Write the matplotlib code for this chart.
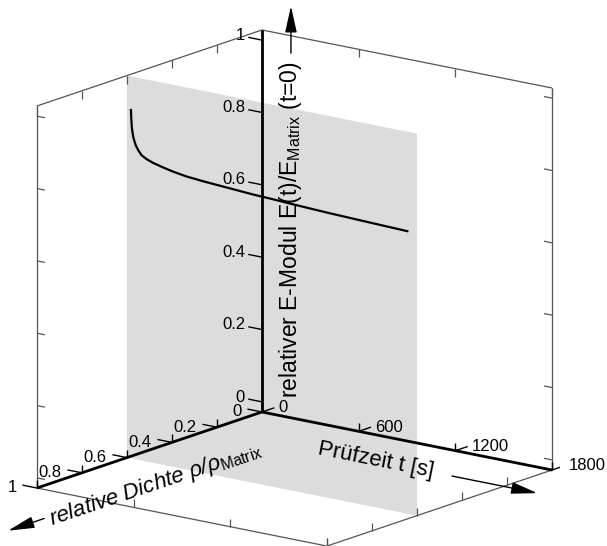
import matplotlib

matplotlib.use("Agg")
import matplotlib.pyplot as plt
import numpy as np
from mpl_toolkits.mplot3d import proj3d
from mpl_toolkits.mplot3d.art3d import Poly3DCollection

RHO_PLANE = 0.6
TIME_S = [25, 27, 31, 39, 54, 70, 91, 122, 163, 225, 287, 371, 474, 578,
          682, 784, 900, 1030, 1240, 1445, 1740]
E_REL = [0.935, 0.912, 0.885, 0.862, 0.841, 0.828, 0.816, 0.808, 0.801, 0.794,
         0.788, 0.782, 0.778, 0.775, 0.772, 0.769, 0.767, 0.764, 0.760, 0.757, 0.753]

RHO_TICKS = [0, 0.2, 0.4, 0.6, 0.8, 1]
RHO_LABELS = ["0", "0.2", "0.4", "0.6", "0.8", "1"]
TIME_TICKS = [0, 600, 1200, 1800]
TIME_LABELS = ["0", "600", "1200", "1800"]
E_TICKS = [0, 0.2, 0.4, 0.6, 0.8, 1]
E_LABELS = ["0", "0.2", "0.4", "0.6", "0.8", "1"]

RHO_LIM = (0, 1)
TIME_LIM = (0, 1800)
E_LIM = (-0.028, 1.028)

plt.rcParams["font.family"] = ["Liberation Sans", "DejaVu Sans"]
plt.rcParams["mathtext.fontset"] = "custom"
plt.rcParams["mathtext.rm"] = "Liberation Sans"
plt.rcParams["mathtext.it"] = "Liberation Sans:italic"

fig = plt.figure(figsize=(6.07, 5.46), dpi=100)
ax = fig.add_axes([0.0232, -0.041, 0.8995, 1.0], projection="3d", computed_zorder=False)
ax.set_proj_type("ortho")
ax.view_init(elev=15.07, azim=37.58)
ax.set_xlim(*RHO_LIM)
ax.set_ylim(*TIME_LIM)
ax.set_zlim(*E_LIM)
ax.set_box_aspect((1.2504, 1.2402, 1.3405), zoom=1.1614)
ax.set_axis_off()

r0, r1 = RHO_LIM
t0, t1 = TIME_LIM
z0, z1 = E_LIM
M = ax.get_proj()

BOX = dict(color="#555555", lw=0.9, zorder=2)
TICK = dict(color="black", lw=1.0, zorder=4)
AXIS = dict(color="black", lw=2.0, zorder=4)


def seg(p, q, **kw):
    ax.plot([p[0], q[0]], [p[1], q[1]], [p[2], q[2]], solid_capstyle="butt", **kw)


def to2d(p):
    xs, ys, _ = proj3d.proj_transform(np.array([p[0]]), np.array([p[1]]), np.array([p[2]]), M)
    return xs[0], ys[0]


def label(p, s, **kw):
    x, y = to2d(p)
    ax.text2D(x, y, s, transform=ax.transData, zorder=5, **kw)


def arrow3d(p, q):
    xa, ya = to2d(p)
    xb, yb = to2d(q)
    ax.annotate("", xy=(xb, yb), xytext=(xa, ya), annotation_clip=False,
                arrowprops=dict(arrowstyle="-|>,head_length=0.9,head_width=0.2",
                                color="black", lw=1.0, mutation_scale=18,
                                shrinkA=0, shrinkB=0))


# gray plane at the measured density
plane = Poly3DCollection(
    [[(RHO_PLANE, t0, z0), (RHO_PLANE, t1, z0), (RHO_PLANE, t1, z1), (RHO_PLANE, t0, z1)]],
    facecolors="#dcdcdc", edgecolors="none", zorder=1,
)
ax.add_collection3d(plane)

# thin bounding box
seg((r1, t0, z0), (r1, t0, z1), **BOX)
seg((r0, t1, z0), (r0, t1, z1), **BOX)
seg((r0, t0, z1), (r1, t0, z1), **BOX)
seg((r0, t0, z1), (r0, t1, z1), **BOX)
seg((r1, t0, z0), (r1, t1, z0), **BOX)
seg((r0, t1, z0), (r1, t1, z0), **BOX)
for r in RHO_TICKS:
    seg((r, t0, z1), (r, t0, z1 - 0.022), **BOX)
    seg((r, t1, z0), (r, t1, z0 + 0.022), **BOX)
for t in TIME_TICKS:
    seg((r0, t, z1), (r0, t, z1 - 0.022), **BOX)
    seg((r1, t, z0), (r1, t, z0 + 0.022), **BOX)
for e in E_TICKS:
    seg((r1, t0, e), (r1, t0 + 50, e), **BOX)
    seg((r0, t1, e), (r0, t1 - 50, e), **BOX)

# curve
ax.plot([RHO_PLANE] * len(TIME_S), TIME_S, E_REL, color="black", lw=1.6, zorder=3)

# main axes
seg((r0, t0, z0), (r1, t0, z0), **AXIS)
seg((r0, t0, z0), (r0, t1, z0), **AXIS)
seg((r0, t0, z0), (r0, t0, z1), **AXIS)

for r, lab in zip(RHO_TICKS, RHO_LABELS):
    seg((r, t0, z0), (r, t0 - 90, z0), **TICK)
    seg((r, t0, z0), (r, t0, z0 + 0.022), **TICK)
    label((r, t0 - 125, z0 - 0.011), lab, ha="right", va="center", fontsize=12)
for t, lab in zip(TIME_TICKS, TIME_LABELS):
    seg((r0, t, z0), (r0 - 0.055, t, z0), **TICK)
    seg((r0, t, z0), (r0, t, z0 + 0.022), **TICK)
    label((r0 - 0.075, t, z0 - 0.004), lab, ha="left", va="center", fontsize=12)
for e, lab in zip(E_TICKS, E_LABELS):
    seg((r0, t0, e), (r0, t0 - 85, e), **TICK)
    label((r0, t0 - 105, e + 0.004), lab, ha="right", va="center", fontsize=12)

# axis titles
label((0.77, 418, z0), "relative Dichte ρ/ρ$_{\\mathrm{Matrix}}$", rotation=18.7,
      style="italic", fontsize=16, ha="center", va="center")
label((0.21, 1000, z0), "Prüfzeit t [s]", rotation=-11.3, fontsize=16,
      ha="center", va="center")
label((0, 180, 0.492), "relativer E-Modul E(t)/E$_{\\mathrm{Matrix}}$ (t=0)", rotation=90,
      fontsize=16.5, ha="center", va="center")

# direction arrows
arrow3d((0, 180, 0.98), (0, 180, 1.11))
arrow3d((1.24, 380, z0), (1.40, 380, z0))
arrow3d((0.215, 1480, z0), (0.215, 2010, z0))

fig.savefig("out.png", dpi=100)
